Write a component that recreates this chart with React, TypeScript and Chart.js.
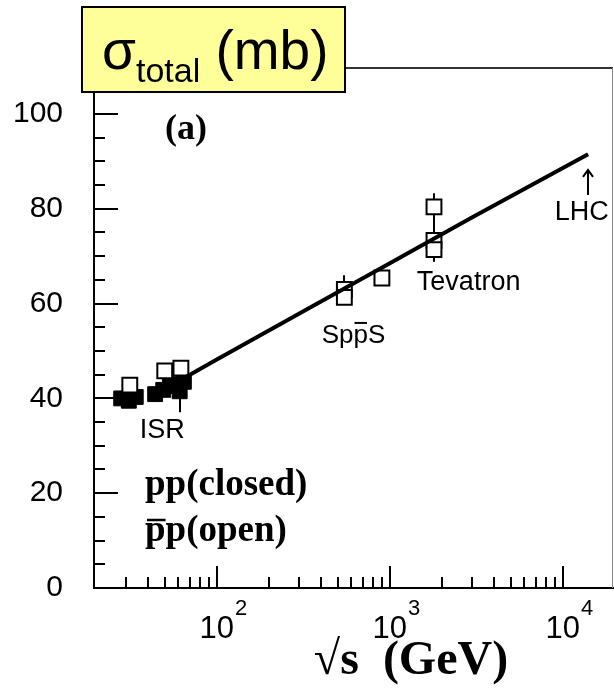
import React, { useEffect, useRef } from 'react';
import { Chart, registerables } from 'chart.js';
Chart.register(...registerables);

// Fit curve (sqrt(s) in GeV, sigma in mb)
const fitEnergy = [60, 100, 300, 1000, 3000, 14000];
const fitSigma = [43.6, 48.2, 57.9, 68.5, 78.2, 91.5];

// pp (closed squares)
const ppEnergy = [28, 31, 34, 44, 49, 53.5, 58, 61, 64.5];
const ppSigma = [40.0, 39.5, 40.3, 40.9, 41.8, 42.6, 43.0, 41.5, 43.5];
const ppErrLow = [null, null, null, null, null, null, null, 37.1, null];
const ppErrHigh = [null, null, null, null, null, null, null, 43.0, null];

// pbar-p (open squares)
const pbarpEnergy = [31.4, 50, 62, 546, 546, 900, 1800, 1800, 1800];
const pbarpSigma = [42.8, 45.8, 46.4, 63.0, 61.3, 65.4, 80.4, 73.3, 71.4];
const pbarpErrLow = [null, null, null, 59.7, null, null, 74.1, 68.8, null];
const pbarpErrHigh = [null, null, null, 66.0, null, null, 83.3, 75.5, null];

// Axis ticks
const yMajorTicks = [0, 20, 40, 60, 80, 100];
const yMinorTicks = [5, 10, 15, 25, 30, 35, 45, 50, 55, 65, 70, 75, 85, 90, 95];
const xMajorTicks = [100, 1000, 10000];
const xMajorExponents = ['2', '3', '4'];
const xMinorTicks = [30, 40, 50, 60, 70, 80, 90, 200, 300, 400, 500, 600, 700, 800, 900, 2000, 3000, 4000, 5000, 6000, 7000, 8000, 9000];

// Annotations (anchored in data space)
const annotationTexts = ['ISR', 'Tevatron', 'LHC'];
const annotationEnergy = [35.9, 1433, 8986];
const annotationSigma = [31.6, 62.9, 77.6];
const sppsEnergy = 404;
const sppsSigma = 51.7;
const lhcArrowEnergy = 14000;
const lhcArrowFrom = 82.9;
const lhcArrowTo = 88.2;

const SANS = '"Liberation Sans", Arial, sans-serif';
const SERIF = '"Liberation Serif", "Times New Roman", serif';

function toXY(xs: number[], ys: number[]) {
  return xs.map((x, i) => ({ x, y: ys[i] }));
}

const decor = {
  id: 'decor',
  beforeDatasetsDraw(chart: any) {
    const { ctx, chartArea: a, scales } = chart;
    const x = scales.x, y = scales.y;
    ctx.save();
    // frame top and right
    ctx.lineWidth = 2;
    ctx.strokeStyle = '#333';
    ctx.beginPath();
    ctx.moveTo(a.left, a.top);
    ctx.lineTo(a.right, a.top);
    ctx.stroke();
    ctx.beginPath();
    ctx.lineWidth = 1;
    ctx.strokeStyle = '#888';
    ctx.moveTo(a.right - 0.5, a.top);
    ctx.lineTo(a.right - 0.5, a.bottom);
    ctx.stroke();
    ctx.strokeStyle = '#000';
    ctx.lineWidth = 2;
    // y ticks (inward)
    ctx.beginPath();
    yMajorTicks.forEach((v) => {
      const py = Math.round(y.getPixelForValue(v));
      ctx.moveTo(a.left, py);
      ctx.lineTo(a.left + 24, py);
    });
    yMinorTicks.forEach((v) => {
      const py = Math.round(y.getPixelForValue(v));
      ctx.moveTo(a.left, py);
      ctx.lineTo(a.left + 11, py);
    });
    // x ticks (inward)
    xMajorTicks.forEach((v) => {
      const px = Math.round(x.getPixelForValue(v));
      ctx.moveTo(px, a.bottom);
      ctx.lineTo(px, a.bottom - 22);
    });
    xMinorTicks.forEach((v) => {
      const px = Math.round(x.getPixelForValue(v));
      ctx.moveTo(px, a.bottom);
      ctx.lineTo(px, a.bottom - 11);
    });
    ctx.stroke();
    // error bars
    ctx.beginPath();
    const bars = (es: number[], lo: (number | null)[], hi: (number | null)[]) => {
      es.forEach((e, i) => {
        if (lo[i] == null || hi[i] == null) return;
        const px = Math.round(x.getPixelForValue(e));
        ctx.moveTo(px, y.getPixelForValue(lo[i] as number));
        ctx.lineTo(px, y.getPixelForValue(hi[i] as number));
      });
    };
    bars(ppEnergy, ppErrLow, ppErrHigh);
    bars(pbarpEnergy, pbarpErrLow, pbarpErrHigh);
    ctx.stroke();
    ctx.restore();
  },
  afterDraw(chart: any) {
    const { ctx, chartArea: a, scales } = chart;
    const x = scales.x, y = scales.y;
    ctx.save();
    ctx.fillStyle = '#000';
    ctx.strokeStyle = '#000';
    // x tick labels 10^n
    xMajorTicks.forEach((v, i) => {
      const px = x.getPixelForValue(v);
      ctx.font = `31px ${SANS}`;
      ctx.textAlign = 'center';
      ctx.textBaseline = 'alphabetic';
      const w = ctx.measureText('10').width;
      ctx.fillText('10', px, a.bottom + 50);
      ctx.font = `22px ${SANS}`;
      ctx.textAlign = 'left';
      ctx.fillText(xMajorExponents[i], px + w / 2 + 1, a.bottom + 27);
    });
    // annotations
    ctx.font = `27px ${SANS}`;
    ctx.textAlign = 'left';
    ctx.textBaseline = 'alphabetic';
    annotationTexts.forEach((t, i) => {
      ctx.fillText(t, x.getPixelForValue(annotationEnergy[i]), y.getPixelForValue(annotationSigma[i]));
    });
    // SppS with bar over second p
    {
      const sx = x.getPixelForValue(sppsEnergy);
      const sy = y.getPixelForValue(sppsSigma);
      ctx.font = `26px ${SANS}`;
      ctx.fillText('SppS', sx, sy);
      const w1 = ctx.measureText('Sp').width;
      const w2 = ctx.measureText('p').width;
      ctx.lineWidth = 2;
      ctx.beginPath();
      ctx.moveTo(sx + w1 + 1, sy - 20);
      ctx.lineTo(sx + w1 + w2 - 1, sy - 20);
      ctx.stroke();
    }
    // LHC arrow
    {
      const ax = Math.round(x.getPixelForValue(lhcArrowEnergy));
      const y0 = y.getPixelForValue(lhcArrowFrom);
      const y1 = y.getPixelForValue(lhcArrowTo);
      ctx.lineWidth = 2;
      ctx.beginPath();
      ctx.moveTo(ax, y0);
      ctx.lineTo(ax, y1);
      ctx.moveTo(ax - 5, y1 + 7);
      ctx.lineTo(ax, y1);
      ctx.lineTo(ax + 5, y1 + 7);
      ctx.stroke();
    }
    // (a) and legend texts
    ctx.font = `bold 36px ${SERIF}`;
    ctx.fillText('(a)', 165, 139);
    ctx.font = `bold 37px ${SERIF}`;
    ctx.fillText('pp(closed)', 145, 495);
    ctx.fillText('pp(open)', 145, 541);
    {
      const wp = ctx.measureText('p').width;
      ctx.lineWidth = 2.5;
      ctx.beginPath();
      ctx.moveTo(147, 520);
      ctx.lineTo(145 + wp, 520);
      ctx.stroke();
    }
    // axis title
    ctx.font = `bold 48px ${SERIF}`;
    ctx.textAlign = 'center';
    ctx.fillText('\u221As  (GeV)', 411, 674);
    // title box
    ctx.fillStyle = '#FFFF99';
    ctx.fillRect(82, 7, 263, 85);
    ctx.lineWidth = 2;
    ctx.strokeStyle = '#000';
    ctx.strokeRect(82, 7, 263, 85);
    ctx.fillStyle = '#000';
    ctx.textAlign = 'left';
    let tx = 102;
    ctx.font = `55px ${SANS}`;
    ctx.fillText('\u03C3', tx, 69);
    tx += ctx.measureText('\u03C3').width;
    ctx.font = `34px ${SANS}`;
    ctx.fillText('total', tx, 82);
    tx += ctx.measureText('total').width;
    ctx.font = `55px ${SANS}`;
    ctx.fillText(' (mb)', tx, 69);
    ctx.restore();
  },
};

export default function App() {
  const ref = useRef<HTMLCanvasElement | null>(null);
  useEffect(() => {
    document.body.style.margin = '0';
    const canvas = ref.current!;
    const chart = new Chart(canvas, {
      type: 'scatter',
      data: {
        datasets: [
          {
            type: 'line',
            data: toXY(fitEnergy, fitSigma),
            borderColor: '#000',
            borderWidth: 4,
            pointRadius: 0,
            fill: false,
            tension: 0,
          } as any,
          {
            data: toXY(pbarpEnergy, pbarpSigma),
            pointStyle: 'rect',
            pointRadius: 10.5,
            backgroundColor: '#fff',
            borderColor: '#000',
            borderWidth: 2,
          },
          {
            data: toXY(ppEnergy, ppSigma),
            pointStyle: 'rect',
            pointRadius: 10.5,
            backgroundColor: '#000',
            borderColor: '#000',
            borderWidth: 1,
          },
        ],
      },
      options: {
        animation: false,
        responsive: false,
        events: [],
        layout: { autoPadding: false, padding: { top: 68, right: 1, left: 0, bottom: 0 } },
        plugins: { legend: { display: false }, tooltip: { enabled: false } },
        scales: {
          x: {
            type: 'logarithmic',
            min: 19.5,
            max: 19500,
            ticks: { display: false },
            grid: { display: true, drawOnChartArea: false, drawTicks: false },
            border: { display: true, color: '#000', width: 2 },
            afterFit(s: any) {
              s.height = 102;
              s.paddingLeft = 0;
              s.paddingRight = 0;
            },
          },
          y: {
            type: 'linear',
            min: 0,
            max: 109.7,
            afterBuildTicks(s: any) {
              s.ticks = yMajorTicks.map((v) => ({ value: v }));
            },
            ticks: {
              color: '#000',
              padding: 31,
              font: { family: SANS, size: 30 },
              callback: (v: any) => String(v),
            },
            grid: { display: true, drawOnChartArea: false, drawTicks: false },
            border: { display: true, color: '#000', width: 2 },
            afterFit(s: any) {
              s.width = 94;
              s.paddingTop = 0;
              s.paddingBottom = 0;
            },
          },
        },
      },
      plugins: [decor],
    });
    return () => chart.destroy();
  }, []);
  return <canvas ref={ref} width={614} height={690} style={{ display: 'block' }} />;
}
